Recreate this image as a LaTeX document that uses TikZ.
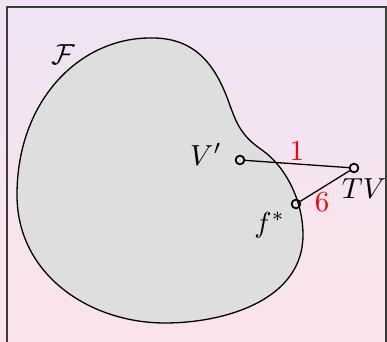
\documentclass[tikz,border=0pt]{standalone}
\usepackage{tikz}
\usetikzlibrary{positioning}
\definecolor{TopLilac}{HTML}{EFE3F4}
\definecolor{BottomPink}{HTML}{FBE4EA}
\definecolor{BlobGray}{HTML}{DEDEDE}
\definecolor{FrameGray}{HTML}{3C3C3C}

\begin{document}
\begin{tikzpicture}[x=0.345pt, y=-0.345pt,
    pt/.style={circle, draw, line width=0.6pt, inner sep=0pt, minimum size=3pt, fill=none},
    link/.style={line width=0.45pt},
    weight/.style={text=red, inner sep=1pt}]
  % background and frame
  \useasboundingbox (0,0) rectangle (387,342);
  \fill[top color=TopLilac, bottom color=BottomPink] (0,0) rectangle (387,342);
  \draw[FrameGray, line width=0.7pt] (386,360) -- (386,7) -- (7,7) -- (7,360);

  % the set F
  \draw[fill=BlobGray, line width=0.45pt]
    (150,38) .. controls (195,37) and (215,65) .. (228,100)
    .. controls (236,122) and (240,135) .. (262,150)
    .. controls (285,166) and (303,200) .. (303,235)
    .. controls (303,300) and (225,323) .. (165,323)
    .. controls (90,323) and (17,275) .. (17,195)
    .. controls (17,100) and (80,38) .. (150,38) -- cycle;
  \node (calF) at (63,55) {$\mathcal{F}$};

  % points
  \node[pt] (vprime) at (240,160) {};
  \node[pt] (tv) at (354,168) {};
  \node[pt] (fstar) at (296,204) {};

  \node[left=1pt of vprime, yshift=2pt] (vlabel) {$V'$};
  \node[below=-1.5pt of tv, xshift=3.5pt] (tvlabel) {$TV$};
  \node[below left=-2pt and -1pt of fstar] (flabel) {$f^*$};

  % links
  \draw[link] (vprime) -- node[weight, above] {1} (tv);
  \draw[link] (fstar) -- node[weight, below, xshift=-1pt, yshift=-1pt] {6} (tv);
\end{tikzpicture}
\end{document}
